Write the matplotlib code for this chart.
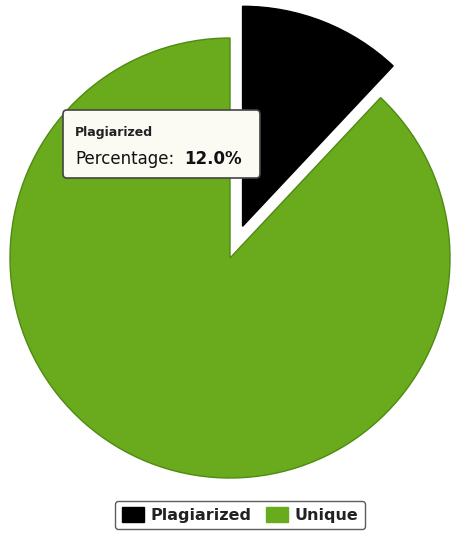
#!/usr/bin/env python3

import matplotlib
matplotlib.use("Agg")
import matplotlib.pyplot as plt
from matplotlib.patches import FancyBboxPatch, Patch

labels = ["Plagiarized", "Unique"]
values = [12.0, 88.0]
colors = ["#000000", "#6aab1e"]
explode = [0.155, 0.0]

W, H = 451, 533
fig = plt.figure(figsize=(W / 100, H / 100), dpi=100)
ax = fig.add_axes([0, 0, 1, 1])

# pie centre in pixels (from top-left) and radius in pixels
cx, cy, r = 230, 258, 220
wedges, _ = ax.pie(values, colors=colors, explode=explode, startangle=90,
                   counterclock=False, radius=1.0,
                   wedgeprops=dict(linewidth=1.0))
wedges[0].set_edgecolor("#000000")
wedges[1].set_edgecolor("#4f8a12")
ax.set_xlim(-cx / r, (W - cx) / r)
ax.set_ylim(-(H - cy) / r, cy / r)
ax.set_aspect("auto")
ax.axis("off")


def fx(px):
    return px / W


def fy(py):
    return 1 - py / H


# tooltip
box = FancyBboxPatch((fx(63), fy(178)), fx(260) - fx(63), fy(110) - fy(178),
                     boxstyle="round,pad=0,rounding_size=0.008",
                     transform=fig.transFigure, facecolor="#fbfbf4",
                     edgecolor="#444444", linewidth=1.2, zorder=5)
fig.add_artist(box)
fig.text(fx(75), fy(136), "Plagiarized", fontsize=9, color="#222222",
         fontweight="bold", zorder=6)
fig.text(fx(75), fy(164), "Percentage:", fontsize=12, color="#111111",
         zorder=6)
fig.text(fx(184), fy(164), "%.1f%%" % values[0], fontsize=12,
         color="#111111", fontweight="bold", zorder=6)

# legend
handles = [Patch(facecolor=c, edgecolor=c) for c in colors]
leg = fig.legend(handles, labels, loc="lower center", ncol=2,
                 bbox_to_anchor=(fx(240), fy(531)), frameon=True,
                 fancybox=True, handlelength=1.4, handleheight=1.1,
                 handletextpad=0.4, columnspacing=0.9, borderpad=0.4,
                 borderaxespad=0.1, prop=dict(size=11.5, weight="bold"))
leg.get_frame().set_edgecolor("#333333")
leg.get_frame().set_linewidth(1.0)
for t in leg.get_texts():
    t.set_color("#222222")

fig.savefig("out.png", dpi=100)
